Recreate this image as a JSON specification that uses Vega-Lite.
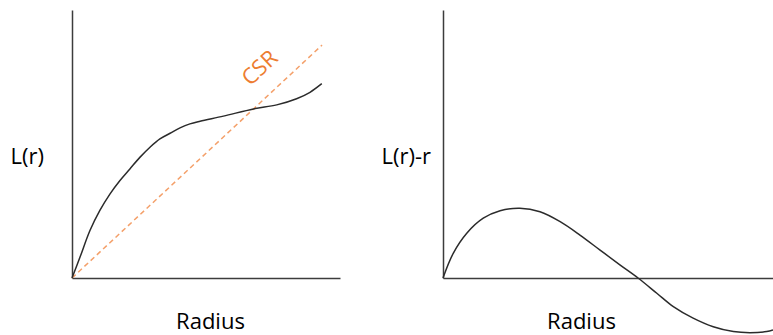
{
  "$schema": "https://vega.github.io/schema/vega-lite/v6.json",
  "padding": {"left": 10, "top": 10, "right": 0, "bottom": 0},
  "background": "white",
  "bounds": "flush",
  "spacing": 103,
  "config": {
    "view": {"stroke": null},
    "font": "Open Sans",
    "axis": {
      "domainColor": "#3c3c3c",
      "domainWidth": 1.5,
      "ticks": false,
      "labels": false,
      "grid": false,
      "titleFont": "Open Sans",
      "titleFontSize": 22,
      "titleFontWeight": "normal",
      "titleColor": "#000000"
    }
  },
  "datasets": {
    "lcurve": [
      {"r": 0, "L": 0},
      {"r": 0.30, "L": 0.78},
      {"r": 0.67, "L": 1.77},
      {"r": 1.04, "L": 2.52},
      {"r": 1.42, "L": 3.14},
      {"r": 1.79, "L": 3.64},
      {"r": 2.16, "L": 4.07},
      {"r": 2.54, "L": 4.51},
      {"r": 2.91, "L": 4.88},
      {"r": 3.28, "L": 5.19},
      {"r": 3.66, "L": 5.40},
      {"r": 4.03, "L": 5.60},
      {"r": 4.40, "L": 5.75},
      {"r": 4.78, "L": 5.85},
      {"r": 5.65, "L": 6.04},
      {"r": 6.77, "L": 6.31},
      {"r": 7.64, "L": 6.46},
      {"r": 8.38, "L": 6.69},
      {"r": 8.88, "L": 6.93},
      {"r": 9.32, "L": 7.25}
    ],
    "csr": [
      {"r": 0, "L": 0},
      {"r": 9.33, "L": 8.69}
    ],
    "csrlabel": [
      {"r": 7.01, "L": 7.83, "label": "CSR"}
    ],
    "rcurve": [
      {"r": 0, "D": 0},
      {"r": 0.31, "D": 0.92},
      {"r": 0.72, "D": 1.67},
      {"r": 1.22, "D": 2.23},
      {"r": 1.73, "D": 2.51},
      {"r": 2.33, "D": 2.60},
      {"r": 2.94, "D": 2.47},
      {"r": 3.55, "D": 2.10},
      {"r": 4.15, "D": 1.60},
      {"r": 4.76, "D": 1.04},
      {"r": 5.36, "D": 0.49},
      {"r": 5.92, "D": -0.01},
      {"r": 6.48, "D": -0.57},
      {"r": 6.98, "D": -1.07},
      {"r": 7.58, "D": -1.50},
      {"r": 8.19, "D": -1.82},
      {"r": 8.80, "D": -2.00},
      {"r": 9.30, "D": -2.04},
      {"r": 9.81, "D": -2.00},
      {"r": 10.0, "D": -1.94}
    ]
  },
  "hconcat": [
    {
      "width": 268,
      "height": 268,
      "layer": [
        {
          "data": {"name": "csr"},
          "mark": {"type": "line", "color": "#F4A06A", "strokeWidth": 1.5, "strokeDash": [5, 3.5]},
          "encoding": {
            "x": {"field": "r", "type": "quantitative", "scale": {"domain": [0, 10], "nice": false},
              "axis": {"title": "Radius", "titleX": 138, "titleY": 50, "titleAlign": "center", "titleBaseline": "alphabetic"}},
            "y": {"field": "L", "type": "quantitative", "scale": {"domain": [0, 10], "nice": false},
              "axis": {"title": "L(r)", "titleAngle": 0, "titleX": -62, "titleY": 153, "titleAlign": "left", "titleBaseline": "alphabetic"}}
          }
        },
        {
          "data": {"name": "lcurve"},
          "mark": {"type": "line", "color": "#2b2b2b", "strokeWidth": 1.5, "interpolate": "catmull-rom"},
          "encoding": {
            "x": {"field": "r", "type": "quantitative"},
            "y": {"field": "L", "type": "quantitative"}
          }
        },
        {
          "data": {"name": "csrlabel"},
          "mark": {"type": "text", "angle": -43, "fontSize": 22, "color": "#ED7D31", "align": "center", "baseline": "middle", "font": "Open Sans"},
          "encoding": {
            "x": {"field": "r", "type": "quantitative"},
            "y": {"field": "L", "type": "quantitative"},
            "text": {"field": "label"}
          }
        }
      ]
    },
    {
      "width": 330,
      "height": 268,
      "data": {"name": "rcurve"},
      "mark": {"type": "line", "color": "#2b2b2b", "strokeWidth": 1.5, "interpolate": "catmull-rom", "clip": false},
      "encoding": {
        "x": {"field": "r", "type": "quantitative", "scale": {"domain": [0, 10], "nice": false},
          "axis": {"title": "Radius", "titleX": 138, "titleY": 50, "titleAlign": "center", "titleBaseline": "alphabetic"}},
        "y": {"field": "D", "type": "quantitative", "scale": {"domain": [0, 10], "nice": false},
          "axis": {"title": "L(r)-r", "titleAngle": 0, "titleX": -62, "titleY": 153, "titleAlign": "left", "titleBaseline": "alphabetic"}}
      }
    }
  ]
}
